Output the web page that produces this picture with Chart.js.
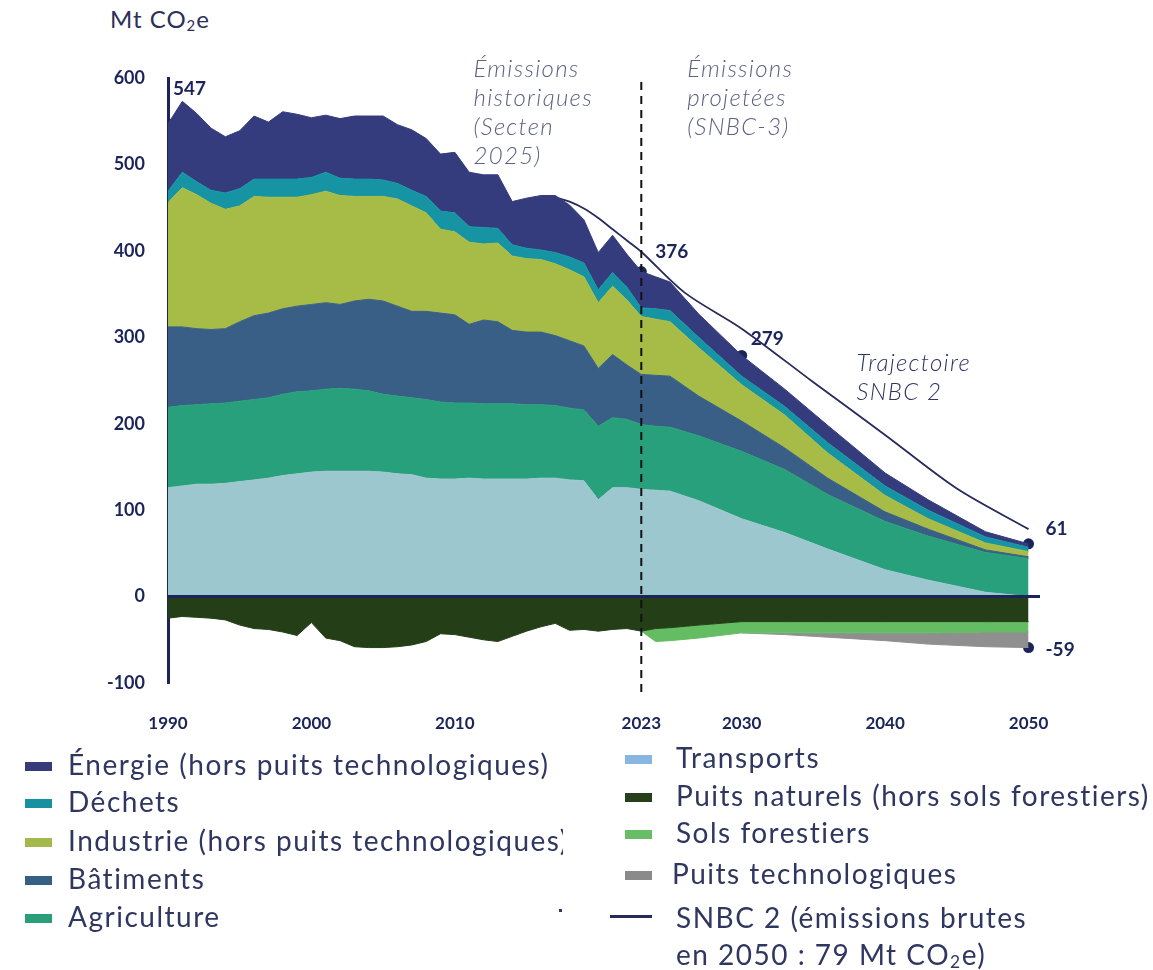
<!DOCTYPE html>
<html lang="fr">
<head>
<meta charset="utf-8">
<title>Émissions historiques et projetées</title>
<script src="https://cdn.jsdelivr.net/npm/chart.js@4.4.1/dist/chart.umd.min.js"></script>
<style>
  html, body { margin: 0; padding: 0; background: #fff; }
  body { width: 1153px; height: 970px; position: relative; overflow: hidden; font-family: Lato, 'Open Sans', sans-serif; color: #2f3660; }
  #wrap { position: absolute; left: 0; top: 0; width: 1153px; height: 740px; }
  .unit { position: absolute; left: 110px; top: 4px; font-size: 24px; letter-spacing: 1px; color: #2a3058; }
  .unit sub, .leg sub { font-size: 0.62em; vertical-align: -0.2em; }
  .col { position: absolute; top: 0; height: 970px; overflow: hidden; }
  .leg { position: absolute; font-size: 28px; line-height: 30px; white-space: nowrap; letter-spacing: 1.5px; }
  .box { position: absolute; width: 27px; height: 9px; }
</style>
</head>
<body>
<div class="unit">Mt CO<sub>2</sub>e</div>
<div id="wrap"><canvas id="chart"></canvas></div>
<div class="col" id="legLeft" style="left:0;width:563px"></div>
<div class="col" id="legRight" style="left:563px;width:590px"></div>
<div style="position:absolute;left:559px;top:909px;width:3px;height:3px;background:#2f3660"></div>
<script>
// years: annual history 1990-2023, then SNBC-3 projection points
const years = [1990, 1991, 1992, 1993, 1994, 1995, 1996, 1997, 1998, 1999,
  2000, 2001, 2002, 2003, 2004, 2005, 2006, 2007, 2008, 2009,
  2010, 2011, 2012, 2013, 2014, 2015, 2016, 2017, 2018, 2019,
  2020, 2021, 2022, 2023,
  2024, 2025, 2027, 2030, 2033, 2036, 2040, 2043, 2047, 2050];

// Mt CO2e per sector (positive = emissions)
const transports = [126, 128, 130, 130, 131, 133, 135, 137, 140, 142,
  144, 145, 145, 145, 145, 144, 142, 141, 137, 136,
  136, 137, 136, 136, 136, 136, 137, 137, 135, 134,
  112, 126, 126, 124,
  123, 122, 111, 90, 74, 55, 31, 19, 5, 0];
const agriculture = [93, 93, 92, 93, 93, 93, 93, 93, 94, 95,
  94, 95, 96, 95, 93, 90, 90, 89, 91, 89,
  88, 87, 87, 87, 87, 86, 85, 84, 83, 82,
  85, 81, 79, 75,
  74, 74, 75, 78, 73, 63, 56, 51, 46, 44];
const batiments = [93, 91, 88, 86, 86, 92, 97, 98, 99, 99,
  100, 100, 97, 102, 106, 108, 104, 100, 102, 103,
  102, 91, 97, 95, 85, 84, 84, 81, 78, 74,
  67, 73, 63, 58,
  59, 59, 46, 35, 25, 19, 11, 8, 3, 2];
const industrie = [144, 161, 155, 146, 138, 134, 138, 134, 129, 126,
  127, 129, 126, 121, 119, 121, 124, 122, 114, 97,
  96, 95, 88, 91, 86, 85, 84, 83, 82, 80,
  76, 79, 75, 67,
  65, 63, 56, 42, 38, 29, 19, 12, 8, 6];
const dechets = [13, 18, 15, 15, 19, 20, 20, 21, 21, 21,
  20, 22, 20, 20, 20, 19, 18, 18, 19, 21,
  22, 18, 19, 17, 13, 12, 11, 13, 15, 16,
  15, 16, 15, 10,
  12, 13, 12, 10, 10, 12, 11, 10, 7, 5];
const energie = [78, 82, 79, 72, 65, 67, 73, 66, 78, 75,
  69, 66, 69, 73, 73, 74, 68, 70, 67, 66,
  70, 63, 61, 62, 50, 58, 63, 66, 60, 50,
  43, 43, 38, 42,
  37, 33, 27, 24, 20, 20, 15, 12, 6, 4];

// sinks (negative)
const puitsNaturels = [-25, -23, -24, -25, -27, -33, -37, -38, -41, -45,
  -30, -48, -51, -58, -59, -59, -58, -56, -52, -43,
  -44, -47, -50, -52, -46, -40, -35, -31, -39, -38,
  -40, -38, -37, -40,
  -37, -36, -33, -29, -29, -29, -29, -29, -29, -29];
const solsForestiers = [0, 0, 0, 0, 0, 0, 0, 0, 0, 0,
  0, 0, 0, 0, 0, 0, 0, 0, 0, 0,
  0, 0, 0, 0, 0, 0, 0, 0, 0, 0,
  0, 0, 0, 0,
  -15, -15, -15, -13, -13, -13, -13, -13, -12, -12];
const puitsTechno = [0, 0, 0, 0, 0, 0, 0, 0, 0, 0,
  0, 0, 0, 0, 0, 0, 0, 0, 0, 0,
  0, 0, 0, 0, 0, 0, 0, 0, 0, 0,
  0, 0, 0, 0,
  0, 0, 0, 0, -2, -5, -9, -13, -17, -18];

// SNBC 2 trajectory (gross emissions)
const snbc2Years = [2017, 2018, 2019, 2020, 2021, 2022, 2023, 2026, 2030, 2035, 2040, 2045, 2050];
const snbc2Values = [462, 457, 449, 438, 425, 412, 399, 352, 310, 248, 187, 125, 78];

// highlighted points
const markYears = [1990, 2023, 2030, 2050, 2050];
const markValues = [547, 376, 279, 61, -59];
const markLabels = ['547', '376', '279', '61', '-59'];

const xTickYears = [1990, 2000, 2010, 2023, 2030, 2040, 2050];
const yTickValues = [-100, 0, 100, 200, 300, 400, 500, 600];

const NAVY = '#1c2559';

const series = [
  { label: 'Transports', vals: transports, color: '#9dc7cf', legend: '#89b6e0', stack: 'pos', fill: 'origin' },
  { label: 'Agriculture', vals: agriculture, color: '#28a07b', legend: '#2a9e78', stack: 'pos', fill: '-1' },
  { label: 'Bâtiments', vals: batiments, color: '#3a5f86', legend: '#355f83', stack: 'pos', fill: '-1' },
  { label: 'Industrie (hors puits technologiques)', vals: industrie, color: '#a6bc47', legend: '#a3b94c', stack: 'pos', fill: '-1' },
  { label: 'Déchets', vals: dechets, color: '#1794a3', legend: '#17909f', stack: 'pos', fill: '-1' },
  { label: 'Énergie (hors puits technologiques)', vals: energie, color: '#343c7d', legend: '#353c78', stack: 'pos', fill: '-1' },
  { label: 'Puits naturels (hors sols forestiers)', vals: puitsNaturels, color: '#243f18', legend: '#25401a', stack: 'neg', fill: 'origin' },
  { label: 'Sols forestiers', vals: solsForestiers, color: '#64bd62', legend: '#67be66', stack: 'neg', fill: '-1' },
  { label: 'Puits technologiques', vals: puitsTechno, color: '#8f8f8f', legend: '#8a8a8a', stack: 'neg', fill: '-1' }
];

const areaSets = series.map(s => ({
  label: s.label,
  data: s.vals.map((v, i) => ({ x: years[i], y: v })),
  backgroundColor: s.color,
  borderColor: s.color,
  borderWidth: 1,
  segment: {
    borderColor: ctx => (s.vals[ctx.p0DataIndex] === 0 && s.vals[ctx.p1DataIndex] === 0) ? 'transparent' : s.color
  },
  fill: s.fill,
  stack: s.stack,
  pointRadius: 0,
  tension: 0
}));

const snbcSet = {
  label: 'SNBC 2',
  data: snbc2Years.map((y, i) => ({ x: y, y: snbc2Values[i] })),
  borderColor: '#262b5c',
  borderWidth: 1.8,
  fill: false,
  stack: 'snbc',
  pointRadius: 0,
  tension: 0.3
};

const markSet = {
  label: 'marks',
  data: markYears.map((y, i) => ({ x: y, y: markValues[i] })),
  showLine: false,
  stack: 'marks',
  pointRadius: 5.5,
  pointBackgroundColor: NAVY,
  pointBorderWidth: 0
};

const notes = [
  { lines: ['Émissions', 'historiques', '(Secten', '2025)'], x: 2011.3, y: 610, color: '#5d6183' },
  { lines: ['Émissions', 'projetées', '(SNBC-3)'], x: 2026.2, y: 610, color: '#5d6183' },
  { lines: ['Trajectoire', 'SNBC 2'], x: 2038.0, y: 270, color: '#2f3563' }
];
const labelOffsets = [[5, -35], [14, -20], [9, -17], [17, -15], [17, 2]];

const decor = {
  id: 'decor',
  afterDatasetsDraw(chart) {
    const { ctx, chartArea, scales: { x, y } } = chart;
    ctx.save();
    // zero line
    const y0 = y.getPixelForValue(0);
    ctx.strokeStyle = NAVY;
    ctx.lineWidth = 3;
    ctx.beginPath();
    ctx.moveTo(chartArea.left, y0);
    ctx.lineTo(chartArea.right, y0);
    ctx.stroke();
    // dashed split between history and projection
    const xs = x.getPixelForValue(2023);
    ctx.strokeStyle = '#111';
    ctx.lineWidth = 2;
    ctx.setLineDash([8, 6]);
    ctx.beginPath();
    ctx.moveTo(xs, chartArea.top + 4);
    ctx.lineTo(xs, chartArea.bottom + 12);
    ctx.stroke();
    ctx.setLineDash([]);
    // value labels
    ctx.fillStyle = NAVY;
    ctx.font = 'bold 19px Lato';
    ctx.textAlign = 'left';
    ctx.textBaseline = 'middle';
    markLabels.forEach((t, i) => {
      const px = x.getPixelForValue(markYears[i]);
      const py = y.getPixelForValue(markValues[i]);
      ctx.fillText(t, px + labelOffsets[i][0], py + labelOffsets[i][1]);
    });
    // italic notes
    ctx.font = 'italic 300 24px Lato';
    ctx.letterSpacing = '1.3px';
    notes.forEach(n => {
      ctx.fillStyle = n.color;
      const px = x.getPixelForValue(n.x);
      const py = y.getPixelForValue(n.y);
      n.lines.forEach((l, j) => ctx.fillText(l, px, py + j * 29));
    });
    ctx.restore();
  }
};

Chart.defaults.font.family = 'Lato';

new Chart(document.getElementById('chart'), {
  type: 'line',
  data: { datasets: [...areaSets, snbcSet, markSet] },
  options: {
    responsive: true,
    maintainAspectRatio: false,
    animation: false,
    layout: { padding: { top: 78, right: 113, left: 0, bottom: 0 } },
    plugins: { legend: { display: false }, tooltip: { enabled: false } },
    scales: {
      x: {
        type: 'linear',
        min: 1990,
        max: 2050.8,
        grid: { display: false },
        border: { display: false },
        afterBuildTicks: s => { s.ticks = xTickYears.map(v => ({ value: v })); },
        afterFit: s => { s.height = 57; },
        ticks: { color: NAVY, font: { size: 17, weight: 'bold' }, padding: 22, autoSkip: false, maxRotation: 0, callback: v => String(v) }
      },
      y: {
        stacked: true,
        min: -100,
        max: 600,
        grid: { display: false, drawTicks: false },
        border: { display: true, color: NAVY, width: 3 },
        afterBuildTicks: s => { s.ticks = yTickValues.map(v => ({ value: v })); },
        afterFit: s => { s.width = 168; },
        ticks: { color: NAVY, font: { size: 18, weight: 'bold' }, padding: 23 }
      }
    }
  },
  plugins: [decor]
});

// legend
const leftItems = [5, 4, 3, 2, 1].map(i => series[i]);
const rightItems = [0, 6, 7, 8].map(i => series[i]);
const leftY = [766, 803, 842, 880, 918];
const rightY = [759, 797, 834, 875];
function addItem(parent, offsetX, boxX, textX, cy, color, html) {
  const b = document.createElement('div');
  b.className = 'box';
  b.style.left = (boxX - offsetX) + 'px';
  b.style.top = (cy - 4) + 'px';
  b.style.background = color;
  parent.appendChild(b);
  const t = document.createElement('div');
  t.className = 'leg';
  t.style.left = (textX - offsetX) + 'px';
  t.style.top = (cy - 17) + 'px';
  t.innerHTML = html;
  parent.appendChild(t);
}
const L = document.getElementById('legLeft');
const R = document.getElementById('legRight');
leftItems.forEach((s, i) => addItem(L, 0, 25, 68, leftY[i], s.legend, s.label));
rightItems.forEach((s, i) => addItem(R, 563, 625, i === 3 ? 672 : 676, rightY[i], s.legend, s.label));
// SNBC 2 legend line
const ln = document.createElement('div');
ln.style.cssText = 'position:absolute;left:' + (610 - 563) + 'px;top:915px;width:42px;height:3px;background:#262b5c';
R.appendChild(ln);
const lt = document.createElement('div');
lt.className = 'leg';
lt.style.left = (676 - 563) + 'px';
lt.style.top = '899px';
lt.style.lineHeight = '37px';
lt.innerHTML = 'SNBC 2 (émissions brutes<br>en 2050 : 79 Mt CO<sub>2</sub>e)';
R.appendChild(lt);
</script>
</body>
</html>
